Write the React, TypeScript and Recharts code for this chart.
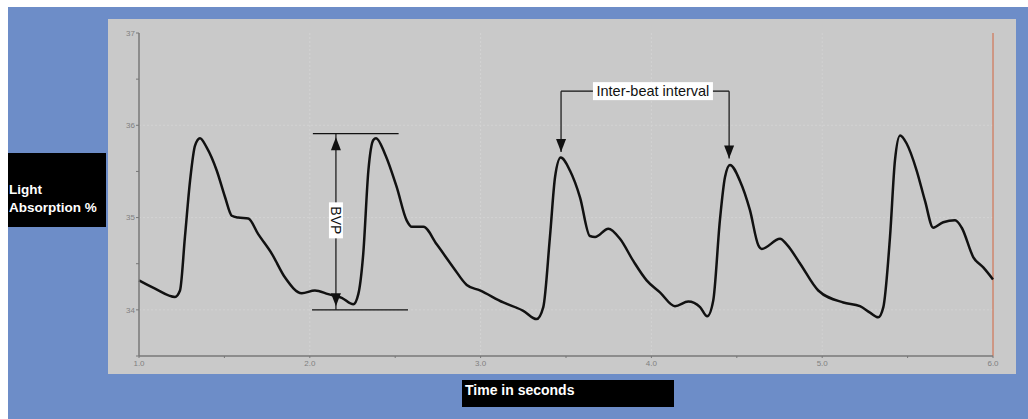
import { LineChart, Line, XAxis, YAxis, CartesianGrid, ReferenceLine, ReferenceDot } from 'recharts'

// trace of the blood volume pulse
const TIME = [
  1.0, 1.094, 1.211, 1.24, 1.269, 1.299, 1.328, 1.357, 1.396, 1.455, 1.504, 1.543, 1.581, 1.64, 1.698,
  1.777, 1.855, 1.953, 2.03, 2.108, 2.187, 2.255, 2.284, 2.313, 2.343, 2.372, 2.388, 2.44, 2.509, 2.567,
  2.597, 2.665, 2.743, 2.84, 2.919, 2.996, 3.133, 3.25, 3.328, 3.367, 3.406, 3.436, 3.469, 3.523, 3.582,
  3.64, 3.67, 3.748, 3.816, 3.894, 3.972, 4.05, 4.138, 4.216, 4.285, 4.327, 4.362, 4.401, 4.431, 4.46,
  4.518, 4.577, 4.626, 4.646, 4.753, 4.792, 4.871, 4.977, 5.124, 5.221, 5.28, 5.328, 5.358, 5.397, 5.426,
  5.456, 5.495, 5.553, 5.602, 5.65, 5.709, 5.778, 5.817, 5.885, 5.943, 6.0,
]
const ABSORPTION = [
  34.32, 34.23, 34.14, 34.21, 34.79, 35.4, 35.78, 35.86, 35.76, 35.51, 35.22, 35.02, 35.0, 34.99, 34.82,
  34.61, 34.35, 34.18, 34.21, 34.17, 34.13, 34.06, 34.17, 34.61, 35.51, 35.84, 35.86, 35.69, 35.33, 34.97,
  34.9, 34.9, 34.71, 34.46, 34.27, 34.21, 34.08, 33.99, 33.9, 34.03, 34.79, 35.44, 35.65, 35.51, 35.22,
  34.8, 34.79, 34.88, 34.77, 34.53, 34.32, 34.19, 34.04, 34.09, 34.03, 33.93, 34.1, 34.97, 35.44, 35.57,
  35.4, 35.08, 34.7, 34.66, 34.77, 34.71, 34.5, 34.21, 34.08, 34.04, 33.97, 33.92, 34.03, 34.79, 35.62,
  35.89, 35.8, 35.51, 35.18, 34.89, 34.95, 34.97, 34.89, 34.57, 34.46, 34.33,
]

const X_TICKS = [1, 1.5, 2, 2.5, 3, 3.5, 4, 4.5, 5, 5.5, 6]
const Y_TICKS = [33.5, 34, 34.5, 35, 35.5, 36, 36.5, 37]

// annotation anchors (time, value)
const BVP_X = 2.153
const BVP_TOP = 35.91
const BVP_BOTTOM = 34.0
const IBI_LEFT = 3.471
const IBI_RIGHT = 4.455
const IBI_Y = 36.37
const IBI_LEFT_TIP = 35.71
const IBI_RIGHT_TIP = 35.64

const data = TIME.map((t, i) => ({ t, v: ABSORPTION[i] }))

const FONT = '"Liberation Sans", Arial, sans-serif'

function arrowDown(p: any) {
  const { cx, cy } = p
  return <polygon points={`${cx - 5},${cy - 13} ${cx + 5},${cy - 13} ${cx},${cy}`} fill="#111" />
}

function arrowUp(p: any) {
  const { cx, cy } = p
  return <polygon points={`${cx - 5},${cy + 13} ${cx + 5},${cy + 13} ${cx},${cy}`} fill="#111" />
}

function bvpLabel(p: any) {
  const { cx, cy } = p
  return (
    <g>
      <rect x={cx - 7} y={cy - 18} width={14} height={36} fill="#fff" />
      <text
        x={cx}
        y={cy}
        transform={`rotate(90 ${cx} ${cy})`}
        textAnchor="middle"
        dominantBaseline="central"
        fontSize={14}
        fontFamily={FONT}
        fill="#111"
      >
        BVP
      </text>
    </g>
  )
}

function ibiLabel(p: any) {
  const { cx, cy } = p
  return (
    <g>
      <rect x={cx - 60} y={cy - 9} width={120} height={18} fill="#fff" />
      <text
        x={cx}
        y={cy}
        textAnchor="middle"
        dominantBaseline="central"
        fontSize={14.5}
        fontFamily={FONT}
        fill="#111"
      >
        Inter-beat interval
      </text>
    </g>
  )
}

export default function App() {
  return (
    <div style={{ position: 'fixed', left: 8, top: 7, right: 0, bottom: 0, background: '#6d8dc8' }}>
      <div style={{ position: 'absolute', left: 100, top: 12, width: 908, height: 355, background: '#c9c9c9' }}>
        <LineChart width={908} height={355} data={data} margin={{ top: 14, right: 23, left: 0, bottom: 0 }}>
          <CartesianGrid
            stroke="#d3d3d3"
            strokeDasharray="2 2"
            horizontalValues={[34, 35, 36]}
            verticalValues={[2, 3, 4, 5]}
          />
          <XAxis
            dataKey="t"
            type="number"
            domain={[1, 6]}
            ticks={X_TICKS}
            height={18}
            tickSize={2}
            tickMargin={2}
            tickFormatter={(v: number) => (Number.isInteger(v) ? v.toFixed(1) : '')}
            tick={{ fontSize: 8, fill: '#808080', fontFamily: FONT }}
            stroke="#777"
            axisLine={{ stroke: '#777', strokeWidth: 1.5 }}
          />
          <YAxis
            type="number"
            domain={[33.5, 37]}
            ticks={Y_TICKS}
            width={31}
            tickSize={3}
            tickMargin={1}
            tickFormatter={(v: number) => (Number.isInteger(v) ? String(v) : '')}
            tick={{ fontSize: 8, fill: '#808080', fontFamily: FONT }}
            stroke="#777"
            axisLine={{ stroke: '#777', strokeWidth: 1.5 }}
          />
          <ReferenceLine x={6} stroke="#d2643f" strokeWidth={1} />
          <Line
            type="monotone"
            dataKey="v"
            stroke="#111"
            strokeWidth={2.5}
            dot={false}
            isAnimationActive={false}
          />

          {/* BVP amplitude marker */}
          <ReferenceLine segment={[{ x: 2.018, y: BVP_TOP }, { x: 2.52, y: BVP_TOP }]} stroke="#111" strokeWidth={1.2} />
          <ReferenceLine segment={[{ x: 2.013, y: BVP_BOTTOM }, { x: 2.575, y: BVP_BOTTOM }]} stroke="#111" strokeWidth={1.2} />
          <ReferenceLine segment={[{ x: BVP_X, y: BVP_TOP }, { x: BVP_X, y: BVP_BOTTOM }]} stroke="#111" strokeWidth={1.2} />
          <ReferenceDot x={BVP_X} y={35.87} shape={arrowUp} />
          <ReferenceDot x={BVP_X} y={34.04} shape={arrowDown} />
          <ReferenceDot x={BVP_X} y={34.97} shape={bvpLabel} />

          {/* inter-beat interval bracket */}
          <ReferenceLine segment={[{ x: IBI_LEFT, y: IBI_Y }, { x: IBI_RIGHT, y: IBI_Y }]} stroke="#111" strokeWidth={1.2} />
          <ReferenceLine segment={[{ x: IBI_LEFT, y: IBI_Y }, { x: IBI_LEFT, y: IBI_LEFT_TIP }]} stroke="#111" strokeWidth={1.2} />
          <ReferenceLine segment={[{ x: IBI_RIGHT, y: IBI_Y }, { x: IBI_RIGHT, y: IBI_RIGHT_TIP }]} stroke="#111" strokeWidth={1.2} />
          <ReferenceDot x={IBI_LEFT} y={IBI_LEFT_TIP} shape={arrowDown} />
          <ReferenceDot x={IBI_RIGHT} y={IBI_RIGHT_TIP} shape={arrowDown} />
          <ReferenceDot x={4.009} y={IBI_Y} shape={ibiLabel} />
        </LineChart>
      </div>

      <div
        style={{
          position: 'absolute',
          left: 0,
          top: 146,
          width: 98,
          height: 74,
          background: '#000',
          color: '#fff',
          fontFamily: FONT,
          fontWeight: 'bold',
          fontSize: 13.5,
          lineHeight: '18px',
          paddingLeft: 1,
          paddingTop: 28,
          boxSizing: 'border-box',
          whiteSpace: 'nowrap',
          overflow: 'hidden',
        }}
      >
        <div>Light</div>
        <div>Absorption %</div>
      </div>

      <div
        style={{
          position: 'absolute',
          left: 454,
          top: 373,
          width: 212,
          height: 27,
          background: '#000',
          color: '#fff',
          fontFamily: FONT,
          fontWeight: 'bold',
          fontSize: 14,
          lineHeight: '20px',
          paddingLeft: 3,
          boxSizing: 'border-box',
        }}
      >
        Time in seconds
      </div>
    </div>
  )
}
